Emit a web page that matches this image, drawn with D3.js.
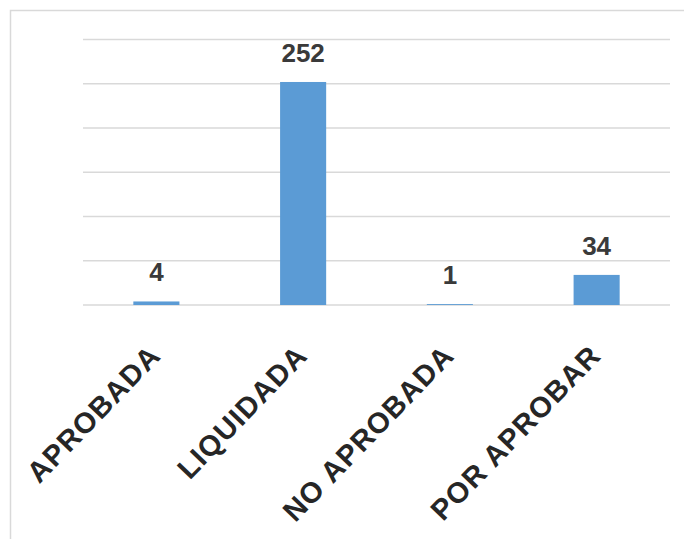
<!DOCTYPE html>
<html>
    <head>
        <script src="https://d3js.org/d3.v7.min.js"></script>
        <style>
            body { margin: 0; background: #fff; }
        </style>
    </head>
    <body>
        <svg width="684" height="539"></svg>

        <script>
            "use strict";

            var categories = ["APROBADA", "LIQUIDADA", "NO APROBADA", "POR APROBAR"];
            var values = [4, 252, 1, 34];
            var yTicks = [0, 50, 100, 150, 200, 250, 300];

            var svg = d3.select("svg"),
                width = +svg.attr("width"),
                height = +svg.attr("height");

            var margin = {top: 39.5, right: 14, bottom: 234, left: 83};

            // chart border, cut off on the right and bottom like the original
            svg.append("rect")
                .attr("x", 10.5).attr("y", 10.5)
                .attr("width", 700).attr("height", 560)
                .attr("fill", "none")
                .attr("stroke", "#d9d9d9")
                .attr("stroke-width", 1.5);

            var x = d3.scaleBand()
                .domain(categories)
                .range([margin.left, width - margin.right])
                .paddingInner(0.686)
                .paddingOuter(0.343);

            var y = d3.scaleLinear()
                .domain([0, 300])
                .range([height - margin.bottom, margin.top]);

            svg.append("g")
                .selectAll("line")
                .data(yTicks)
                .enter().append("line")
                .attr("x1", margin.left)
                .attr("x2", width - margin.right)
                .attr("y1", d => y(d))
                .attr("y2", d => y(d))
                .attr("stroke", "#d9d9d9")
                .attr("stroke-width", 1.5);

            svg.append("g")
                .selectAll("rect")
                .data(values)
                .enter().append("rect")
                .attr("x", (d, i) => x(categories[i]))
                .attr("width", x.bandwidth())
                .attr("y", d => y(d))
                .attr("height", d => y(0) - y(d))
                .attr("fill", "#5b9bd5");

            svg.append("g")
                .selectAll("text")
                .data(values)
                .enter().append("text")
                .attr("x", (d, i) => x(categories[i]) + x.bandwidth() / 2)
                .attr("y", d => y(d) - 20)
                .attr("text-anchor", "middle")
                .attr("font-family", "Liberation Sans, Arial, sans-serif")
                .attr("font-weight", "bold")
                .attr("font-size", 26)
                .attr("fill", "#3a3a3a")
                .text(d => d);

            svg.append("g")
                .selectAll("text")
                .data(categories)
                .enter().append("text")
                .attr("transform", d => "translate(" + (x(d) + x.bandwidth() / 2 + 6) + "," + (y(0) + 52) + ") rotate(-46)")
                .attr("text-anchor", "end")
                .attr("font-family", "Liberation Sans, Arial, sans-serif")
                .attr("font-weight", "bold")
                .attr("font-size", 29)
                .attr("letter-spacing", 1.2)
                .attr("fill", "#262626")
                .text(d => d);
        </script>
    </body>
</html>
